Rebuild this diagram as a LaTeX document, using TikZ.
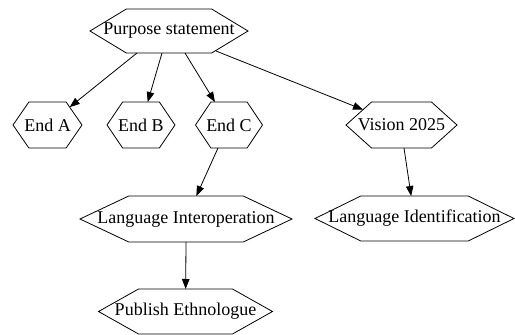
\documentclass[tikz,border=0pt]{standalone}
\usepackage{fontspec}
\setmainfont{Liberation Serif}
\usetikzlibrary{arrows.meta}
\makeatletter
\def\gvhexfrac{0.23}
\pgfdeclareshape{gvhex}{%
  \inheritsavedanchors[from=rectangle]%
  \inheritanchor[from=rectangle]{center}%
  \inheritanchor[from=rectangle]{north}%
  \inheritanchor[from=rectangle]{south}%
  \inheritanchor[from=rectangle]{east}%
  \inheritanchor[from=rectangle]{west}%
  \inheritanchor[from=rectangle]{north east}%
  \inheritanchor[from=rectangle]{north west}%
  \inheritanchor[from=rectangle]{south east}%
  \inheritanchor[from=rectangle]{south west}%
  \inheritanchor[from=rectangle]{text}%
  \inheritanchor[from=rectangle]{base}%
  \inheritanchor[from=rectangle]{mid}%
  \backgroundpath{%
    \southwest \edef\gv@xa{\the\pgf@x}\edef\gv@ya{\the\pgf@y}%
    \northeast \edef\gv@xb{\the\pgf@x}\edef\gv@yb{\the\pgf@y}%
    \pgfmathsetlengthmacro\gv@c{\gvhexfrac*(\gv@xb-\gv@xa)}%
    \pgfmathsetlengthmacro\gv@ym{0.5*(\gv@ya+\gv@yb)}%
    \pgfmathsetlengthmacro\gv@xl{\gv@xa+\gv@c}%
    \pgfmathsetlengthmacro\gv@xr{\gv@xb-\gv@c}%
    \pgfpathmoveto{\pgfqpoint{\gv@xa}{\gv@ym}}%
    \pgfpathlineto{\pgfqpoint{\gv@xl}{\gv@yb}}%
    \pgfpathlineto{\pgfqpoint{\gv@xr}{\gv@yb}}%
    \pgfpathlineto{\pgfqpoint{\gv@xb}{\gv@ym}}%
    \pgfpathlineto{\pgfqpoint{\gv@xr}{\gv@ya}}%
    \pgfpathlineto{\pgfqpoint{\gv@xl}{\gv@ya}}%
    \pgfpathclose
  }%
  \anchorborder{%
    \pgfpointnormalised{\pgfqpoint{\pgf@x}{\pgf@y}}%
    \edef\gv@dx{\pgf@sys@tonumber\pgf@x}\edef\gv@dy{\pgf@sys@tonumber\pgf@y}%
    \southwest \edef\gv@xa{\pgf@sys@tonumber\pgf@x}\edef\gv@ya{\pgf@sys@tonumber\pgf@y}%
    \northeast \edef\gv@xb{\pgf@sys@tonumber\pgf@x}\edef\gv@yb{\pgf@sys@tonumber\pgf@y}%
    \pgfmathsetmacro\gv@a{0.5*(\gv@xb-\gv@xa)}%
    \pgfmathsetmacro\gv@b{0.5*(\gv@yb-\gv@ya)}%
    \pgfmathsetmacro\gv@c{2*\gvhexfrac*\gv@a}%
    \pgfmathsetmacro\gv@adx{abs(\gv@dx)}%
    \pgfmathsetmacro\gv@ady{abs(\gv@dy)}%
    \pgfmathsetmacro\gv@t{(\gv@adx*\gv@b <= (\gv@a-\gv@c)*\gv@ady) ? (\gv@b/max(\gv@ady,0.01)) : (\gv@a/(\gv@adx+\gv@c*\gv@ady/\gv@b))}%
    \pgfmathsetmacro\gv@px{0.5*(\gv@xa+\gv@xb)+\gv@t*\gv@dx}%
    \pgfmathsetmacro\gv@py{0.5*(\gv@ya+\gv@yb)+\gv@t*\gv@dy}%
    \pgfqpoint{\gv@px pt}{\gv@py pt}%
  }%
}
\makeatother
\tikzset{
  hexnode/.style={shape=gvhex, draw, line width=0.8pt, inner sep=0pt, outer sep=0pt,
    font=\fontsize{18}{20}\selectfont, minimum height=45pt},
  arr/.style={line width=0.8pt, -{Triangle[length=10pt,width=7.5pt]}}
}
\begin{document}
\begin{tikzpicture}[x=1pt,y=-1pt]
\useasboundingbox (0,0) rectangle (515,335);
\node[hexnode, minimum width=158pt, minimum height=44pt] (P) at (169,31) {Purpose statement};
\node[hexnode, minimum width=69pt, minimum height=46pt] (A) at (47.5,125) {End A};
\node[hexnode, minimum width=68pt, minimum height=46pt] (B) at (141,125) {End B};
\node[hexnode, minimum width=67pt, minimum height=46pt] (C) at (229,125) {End C};
\node[hexnode, minimum width=111pt, minimum height=46pt] (V) at (401.5,125) {Vision 2025};
\node[hexnode, minimum width=212pt, minimum height=46pt] (LI) at (186,219) {Language Interoperation};
\node[hexnode, minimum width=199pt] (LD) at (414.5,218.5) {Language Identification};
\node[hexnode, minimum width=174pt] (PE) at (185.5,311.5) {Publish Ethnologue};
\draw[arr] ([xshift=-32pt]P.south) -- (A);
\draw[arr] ([xshift=-7pt]P.south) -- (B);
\draw[arr] ([xshift=16pt]P.south) -- (C);
\draw[arr] ([xshift=47pt,yshift=2pt]P.south) -- (V);
\draw[arr] ([xshift=-11pt]C.south) -- (LI);
\draw[arr] ([xshift=2.5pt]V.south) -- (LD);
\draw[arr] (LI.south) -- (PE);
\end{tikzpicture}
\end{document}
